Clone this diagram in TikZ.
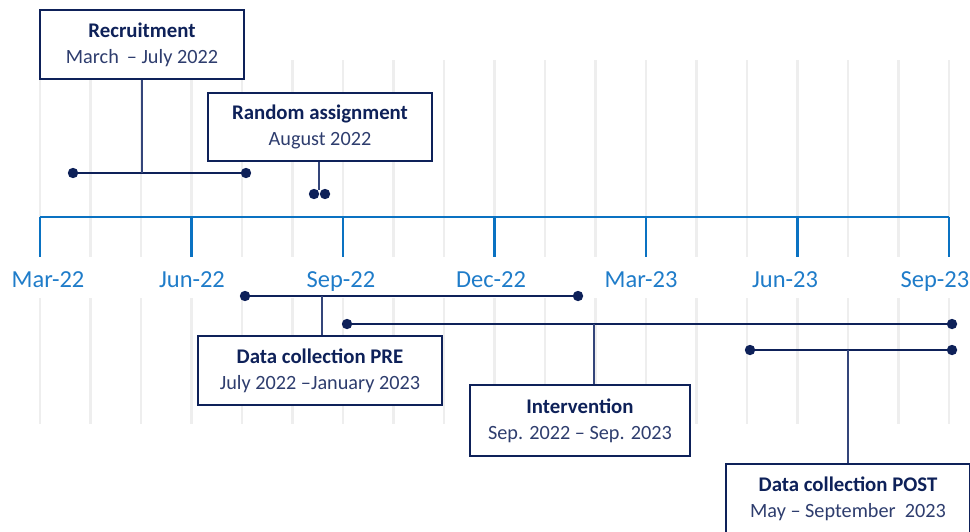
\documentclass[tikz,border=0pt]{standalone}
\usepackage{fontspec}
\setmainfont{Carlito}
\usetikzlibrary{positioning}
\definecolor{navy}{HTML}{0E2159}
\definecolor{datecol}{HTML}{2E3D6E}
\definecolor{axisblue}{HTML}{0A72C2}
\definecolor{labelblue}{HTML}{1F7CC9}
\definecolor{gridgrey}{HTML}{EEEEEE}
\definecolor{stemcol}{HTML}{34457A}
\tikzset{
x=0.025cm, y=-0.025cm, % one unit is one pixel of the reference
phase/.style={draw=navy, line width=1.4pt, fill=white, align=center, inner sep=0pt, text=navy, font=\fontsize{14.4}{18.6}\selectfont}, % the text boxes
dot/.style={circle, fill=navy, inner sep=0pt, minimum size=0.26cm},
bar/.style={navy, line width=2.1pt},
stem/.style={stemcol, line width=0.9pt},
axis/.style={axisblue, line width=2.1pt},
grid line/.style={gridgrey, line width=2pt},
month/.style={text=labelblue, anchor=base, inner sep=0pt, font=\fontsize{17.4}{20}\selectfont},
}
\newcommand{\phasetext}[2]{{\fontsize{14.8}{18.6}\selectfont\bfseries #1}\\\textcolor{datecol}{#2}}

\begin{document}
\begin{tikzpicture}
    \useasboundingbox (0,0) rectangle (970,531);
    \clip (0,0) rectangle (970,531);

    % monthly grid
    \foreach \m in {0,...,18}
        \draw[grid line] ({40+50.5*\m},60) -- ({40+50.5*\m},257) ({40+50.5*\m},298) -- ({40+50.5*\m},424);

    % axis with quarter ticks
    \draw[axis] (40,217) -- (949,217);
    \foreach \lx/\lab [count=\i from 0] in {48/Mar-22,192/Jun-22,341/Sep-22,491/Dec-22,641/Mar-23,785/Jun-23,935/Sep-23} {
        \draw[axis] ({40+151.5*\i},217) -- ({40+151.5*\i},257);
        \node[month] (t\i) at (\lx,287) {\lab};
    }

    % recruitment
    \node[dot] (rec1) at (73,173) {};
    \node[dot] (rec2) at (246,173) {};
    \draw[bar] (rec1) -- (rec2);
    \node[phase, minimum width=5.1cm, minimum height=1.725cm] (rec) at (142,44.5) {\phasetext{Recruitment}{March \,– July 2022}};
    \coordinate (recm) at (142,173);
    \draw[stem] (rec.south) -- (recm);

    % random assignment
    \node[dot] (ra1) at (314,194) {};
    \node[dot] (ra2) at (325,194) {};
    \node[phase, minimum width=5.6cm, minimum height=1.7cm] (ra) at (320,127) {\phasetext{Random assignment}{August 2022}};
    \coordinate (ram) at (319,190);
    \draw[stem] (ram |- ra.south) -- (ram);

    % data collection pre
    \node[dot] (pre1) at (245,296) {};
    \node[dot] (pre2) at (578,296) {};
    \draw[bar] (pre1) -- (pre2);
    \node[phase, minimum width=6.1cm, minimum height=1.725cm] (pre) at (320,370.5) {\phasetext{Data collection PRE}{July 2022 –January 2023}};
    \coordinate (prem) at (322,296);
    \draw[stem] (prem) -- (prem |- pre.north);

    % intervention
    \node[dot] (int1) at (347,324) {};
    \node[dot] (int2) at (952,324) {};
    \draw[bar] (int1) -- (int2);
    \node[phase, minimum width=5.5cm, minimum height=1.775cm] (int) at (580,420.5) {\phasetext{Intervention}{Sep. 2022 – Sep. 2023}};
    \coordinate (intm) at (594,324);
    \draw[stem] (intm) -- (intm |- int.north);

    % data collection post
    \node[dot] (post1) at (750,350) {};
    \node[dot] (post2) at (952,350) {};
    \draw[bar] (post1) -- (post2);
    \node[phase, minimum width=6.1cm, minimum height=1.75cm] (post) at (848,499) {\phasetext{Data collection POST}{May – September \ 2023}};
    \coordinate (postm) at (848,350);
    \draw[stem] (postm) -- (postm |- post.north);
\end{tikzpicture}
\end{document}
